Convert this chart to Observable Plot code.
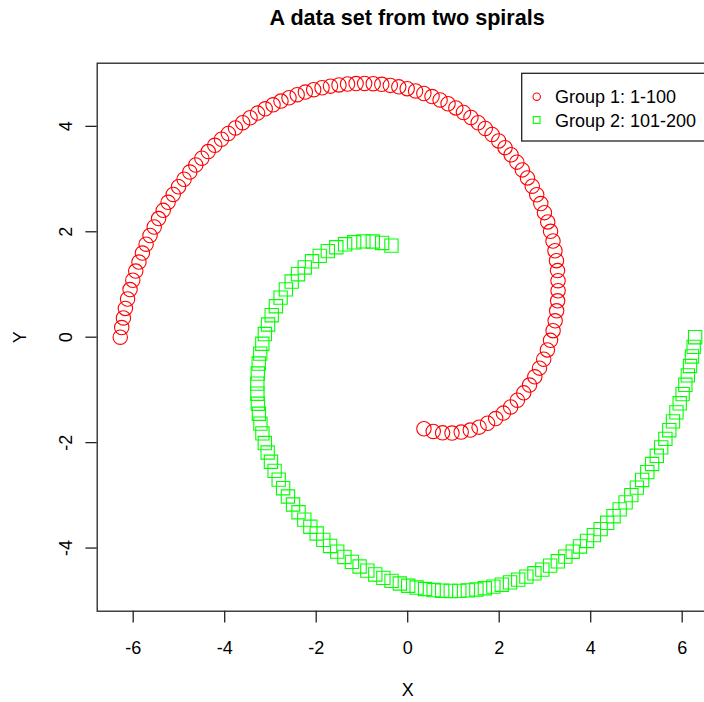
<!DOCTYPE html>
<html>
<head>
<meta charset="utf-8">
<script src="https://cdn.jsdelivr.net/npm/d3@7"></script>
<script src="https://cdn.jsdelivr.net/npm/@observablehq/plot@0.6"></script>
<style>
  html, body { margin: 0; padding: 0; background: #fff; overflow: hidden; width: 704px; height: 702px; }
  #title { width: 621px; margin-left: 96.7px; height: 44px; line-height: 36px; text-align: center;
           font-family: "Liberation Sans", Arial, Helvetica, sans-serif; font-weight: bold; font-size: 21.6px; color: #000; white-space: nowrap; }
  #chart { width: 722px; }
  #chart svg { display: block; overflow: visible; max-width: none !important; width: 722px !important; height: 658px !important; }
</style>
</head>
<body>
<div id="title">A data set from two spirals</div>
<div id="chart"></div>
<script>
const group1X = [0.355, 0.558, 0.763, 0.968, 1.170, 1.368, 1.560, 1.746, 1.923, 2.091,
  2.250, 2.398, 2.536, 2.663, 2.778, 2.881, 2.973, 3.053, 3.122, 3.178,
  3.223, 3.256, 3.277, 3.287, 3.286, 3.275, 3.252, 3.219, 3.176, 3.123,
  3.061, 2.989, 2.909, 2.820, 2.723, 2.618, 2.506, 2.386, 2.260, 2.128,
  1.989, 1.845, 1.696, 1.541, 1.383, 1.219, 1.052, 0.882, 0.708, 0.532,
  0.353, 0.172, -0.011, -0.195, -0.380, -0.567, -0.754, -0.941, -1.128, -1.315,
  -1.502, -1.687, -1.872, -2.055, -2.237, -2.416, -2.594, -2.770, -2.943, -3.114,
  -3.281, -3.446, -3.607, -3.765, -3.920, -4.070, -4.217, -4.360, -4.499, -4.633,
  -4.763, -4.888, -5.009, -5.125, -5.237, -5.343, -5.445, -5.541, -5.632, -5.718,
  -5.799, -5.874, -5.945, -6.009, -6.069, -6.123, -6.171, -6.214, -6.251, -6.283];
const group1Y = [-1.737, -1.788, -1.815, -1.818, -1.800, -1.762, -1.706, -1.632, -1.543, -1.440,
  -1.323, -1.195, -1.056, -0.908, -0.751, -0.587, -0.417, -0.241, -0.060, 0.124,
  0.311, 0.500, 0.690, 0.881, 1.072, 1.263, 1.452, 1.640, 1.825, 2.008,
  2.187, 2.363, 2.535, 2.702, 2.865, 3.022, 3.174, 3.321, 3.461, 3.596,
  3.724, 3.845, 3.960, 4.068, 4.169, 4.263, 4.350, 4.429, 4.501, 4.565,
  4.623, 4.672, 4.715, 4.749, 4.777, 4.797, 4.809, 4.814, 4.812, 4.803,
  4.786, 4.763, 4.732, 4.695, 4.651, 4.600, 4.543, 4.479, 4.409, 4.333,
  4.251, 4.163, 4.069, 3.970, 3.865, 3.755, 3.640, 3.521, 3.396, 3.267,
  3.133, 2.996, 2.854, 2.708, 2.559, 2.406, 2.250, 2.091, 1.929, 1.764,
  1.596, 1.426, 1.254, 1.080, 0.903, 0.725, 0.546, 0.365, 0.183, 0.000];
const group2X = [-0.355, -0.558, -0.763, -0.968, -1.170, -1.368, -1.560, -1.746, -1.923, -2.091,
  -2.250, -2.398, -2.536, -2.663, -2.778, -2.881, -2.973, -3.053, -3.122, -3.178,
  -3.223, -3.256, -3.277, -3.287, -3.286, -3.275, -3.252, -3.219, -3.176, -3.123,
  -3.061, -2.989, -2.909, -2.820, -2.723, -2.618, -2.506, -2.386, -2.260, -2.128,
  -1.989, -1.845, -1.696, -1.541, -1.383, -1.219, -1.052, -0.882, -0.708, -0.532,
  -0.353, -0.172, 0.011, 0.195, 0.380, 0.567, 0.754, 0.941, 1.128, 1.315,
  1.502, 1.687, 1.872, 2.055, 2.237, 2.416, 2.594, 2.770, 2.943, 3.114,
  3.281, 3.446, 3.607, 3.765, 3.920, 4.070, 4.217, 4.360, 4.499, 4.633,
  4.763, 4.888, 5.009, 5.125, 5.237, 5.343, 5.445, 5.541, 5.632, 5.718,
  5.799, 5.874, 5.945, 6.009, 6.069, 6.123, 6.171, 6.214, 6.251, 6.283];
const group2Y = [1.737, 1.788, 1.815, 1.818, 1.800, 1.762, 1.706, 1.632, 1.543, 1.440,
  1.323, 1.195, 1.056, 0.908, 0.751, 0.587, 0.417, 0.241, 0.060, -0.124,
  -0.311, -0.500, -0.690, -0.881, -1.072, -1.263, -1.452, -1.640, -1.825, -2.008,
  -2.187, -2.363, -2.535, -2.702, -2.865, -3.022, -3.174, -3.321, -3.461, -3.596,
  -3.724, -3.845, -3.960, -4.068, -4.169, -4.263, -4.350, -4.429, -4.501, -4.565,
  -4.623, -4.672, -4.715, -4.749, -4.777, -4.797, -4.809, -4.814, -4.812, -4.803,
  -4.786, -4.763, -4.732, -4.695, -4.651, -4.600, -4.543, -4.479, -4.409, -4.333,
  -4.251, -4.163, -4.069, -3.970, -3.865, -3.755, -3.640, -3.521, -3.396, -3.267,
  -3.133, -2.996, -2.854, -2.708, -2.559, -2.406, -2.250, -2.091, -1.929, -1.764,
  -1.596, -1.426, -1.254, -1.080, -0.903, -0.725, -0.546, -0.365, -0.183, 0.000];
const xTicks = [-6, -4, -2, 0, 2, 4, 6];
const yTicks = [-4, -2, 0, 2, 4];
const groupLabels = ["Group 1: 1-100", "Group 2: 101-200"];
const groupColors = ["#ff0000", "#00ff00"];

const g1 = group1X.map((x, i) => ({x, y: group1Y[i]}));
const g2 = group2X.map((x, i) => ({x, y: group2Y[i]}));

const FONT = "'Liberation Sans', Arial, Helvetica, sans-serif";
const fmt = d => String(d);
const chart = Plot.plot({
  width: 722,
  height: 658,
  marginLeft: 96.7,
  marginRight: 4.3,
  marginTop: 18.7,
  marginBottom: 91.3,
  style: {fontFamily: FONT, fontSize: "18px", background: "white", color: "#000", overflow: "visible", maxWidth: "none"},
  x: {domain: [-6.787, 6.787]},
  y: {domain: [-5.198, 5.198]},
  marks: [
    Plot.dot(g1, {x: "x", y: "y", r: 7.2, stroke: groupColors[0], strokeWidth: 1.1, fill: "none"}),
    Plot.dot(g2, {x: "x", y: "y", r: 7.5, symbol: "square", stroke: groupColors[1], strokeWidth: 1.1, fill: "none"}),
    Plot.frame({stroke: "#222", strokeWidth: 1.3}),
    Plot.axisX(xTicks, {anchor: "bottom", tickSize: 11.7, tickPadding: 18, tickFormat: fmt, fontSize: 18, label: null, stroke: "#222", strokeWidth: 1.3}),
    Plot.axisY(yTicks, {anchor: "left", tickSize: 11.3, tickPadding: 14.4, tickRotate: -90, tickFormat: fmt, fontSize: 18, label: null, stroke: "#222", strokeWidth: 1.3}),
    Plot.text(["X"], {frameAnchor: "bottom", dy: 79.3, lineAnchor: "middle", textAnchor: "middle", fontSize: 18}),
    Plot.text(["Y"], {frameAnchor: "left", dx: -77.2, rotate: -90, lineAnchor: "middle", textAnchor: "middle", fontSize: 18})
  ]
});
document.getElementById("chart").appendChild(chart);

// legend (top-right, like R's legend())
const svg = d3.select(chart);
const lg = svg.append("g").attr("font-family", FONT).attr("font-size", 18).attr("text-anchor", "start");
lg.append("rect").attr("x", 521.7).attr("y", 29.3).attr("width", 186).attr("height", 67.7)
  .attr("fill", "white").attr("stroke", "#222").attr("stroke-width", 1.3);
const rowsY = [52.7, 76];
lg.append("circle").attr("cx", 536.7).attr("cy", rowsY[0]).attr("r", 3.7)
  .attr("fill", "none").attr("stroke", groupColors[0]).attr("stroke-width", 1.1);
lg.append("rect").attr("x", 536.7 - 3.4).attr("y", rowsY[1] - 3.4).attr("width", 6.8).attr("height", 6.8)
  .attr("fill", "none").attr("stroke", groupColors[1]).attr("stroke-width", 1.1);
groupLabels.forEach((t, i) => {
  lg.append("text").attr("x", 555).attr("y", rowsY[i] + 6.5).attr("text-anchor", "start").attr("fill", "#000").text(t);
});
</script>
</body>
</html>
